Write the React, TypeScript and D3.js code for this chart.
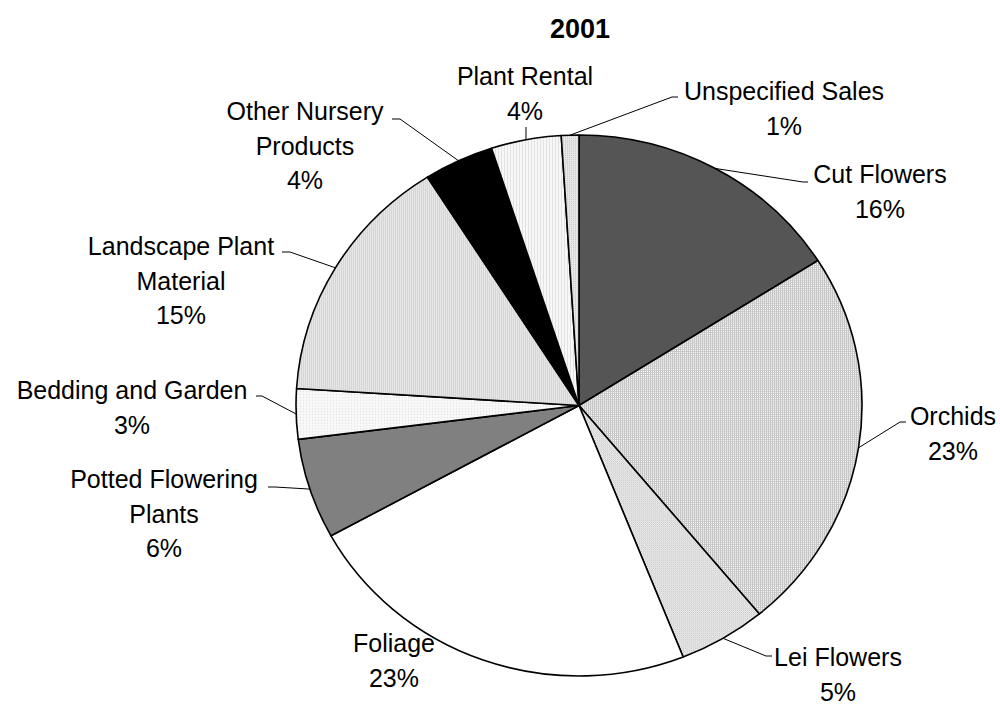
import * as d3 from 'd3';
import React from 'react';

// 2001 sales shares (percent)
const categories = [
  'Cut Flowers', 'Orchids', 'Lei Flowers', 'Foliage', 'Potted Flowering Plants',
  'Bedding and Garden', 'Landscape Plant Material', 'Other Nursery Products',
  'Plant Rental', 'Unspecified Sales',
];
const shares = [16, 23, 5, 23, 6, 3, 15, 4, 4, 1];
const labelLines = [
  ['Cut Flowers'], ['Orchids'], ['Lei Flowers'], ['Foliage'], ['Potted Flowering', 'Plants'],
  ['Bedding and Garden'], ['Landscape Plant', 'Material'], ['Other Nursery', 'Products'],
  ['Plant Rental'], ['Unspecified Sales'],
];
const title = '2001';

// layout (label anchor + leader line bends), not data
const layout = [
  { x: 880, y: 174, path: [[803, 182], [808, 182]] },
  { x: 953, y: 416, path: [[900, 422], [906, 422]] },
  { x: 838, y: 657, path: [[766, 656], [772, 656]] },
  { x: 394, y: 643, path: null },
  { x: 164, y: 479, path: [[275, 487], [268, 487]] },
  { x: 132, y: 390, path: [[262, 396], [256, 396]] },
  { x: 181, y: 246, path: [[290, 252], [282, 252]] },
  { x: 305, y: 111, path: [[400, 119], [392, 119]] },
  { x: 525, y: 76, path: [[526, 127]] },
  { x: 784, y: 91, path: [[672, 97], [678, 97]] },
];
const fills = [
  '#555555', 'url(#pOrchid)', 'url(#pLei)', '#ffffff', '#808080',
  'url(#pBed)', 'url(#pLand)', '#000000', 'url(#pRent)', 'url(#pUns)',
];

const W = 1000, H = 704;
const cx = 579, cy = 405.5, R = 283, ky = 270.5 / 283;
const lineH = 34.5;
const font = "'Liberation Sans', Arial, sans-serif";

export default function App() {
  const pie = d3.pie<number>().value(d => d).sort(null);
  const arcs = pie(shares);
  const arc = d3.arc<d3.PieArcDatum<number>>().innerRadius(0).outerRadius(R);

  const edgePoint = (a: d3.PieArcDatum<number>) => {
    const m = (a.startAngle + a.endAngle) / 2;
    return [cx + R * Math.sin(m), cy - R * Math.cos(m) * ky];
  };
  const line = d3.line();

  return (
    <svg width={W} height={H} style={{ position: 'absolute', left: 0, top: 0, background: '#fff' }}>
      <defs>
        <pattern id="pOrchid" width="2" height="2" patternUnits="userSpaceOnUse">
          <rect width="2" height="2" fill="#c6c6c6" />
          <rect width="1" height="1" fill="#ffffff" />
        </pattern>
        <pattern id="pLei" width="2" height="2" patternUnits="userSpaceOnUse">
          <rect width="2" height="2" fill="#ececec" />
          <rect width="1" height="1" fill="#c8c8c8" />
          <rect x="1" y="1" width="1" height="1" fill="#d8d8d8" />
        </pattern>
        <pattern id="pBed" width="3" height="3" patternUnits="userSpaceOnUse">
          <rect width="3" height="3" fill="#f8f8f8" />
          <rect width="1" height="1" fill="#dcdcdc" />
        </pattern>
        <pattern id="pLand" width="2" height="2" patternUnits="userSpaceOnUse">
          <rect width="2" height="2" fill="#e6e6e6" />
          <rect width="1" height="2" fill="#d6d6d6" />
        </pattern>
        <pattern id="pRent" width="3" height="3" patternUnits="userSpaceOnUse">
          <rect width="3" height="3" fill="#f7f7f7" />
          <rect width="1" height="3" fill="#e2e2e2" />
        </pattern>
        <pattern id="pUns" width="2" height="2" patternUnits="userSpaceOnUse">
          <rect width="2" height="2" fill="#e8e8e8" />
          <rect width="1" height="1" fill="#c4c4c4" />
        </pattern>
      </defs>

      <text x={580} y={29} textAnchor="middle" dominantBaseline="central"
        fontFamily={font} fontWeight="bold" fontSize={27}>{title}</text>

      <g transform={`translate(${cx},${cy}) scale(1,${ky})`}>
        {arcs.map((a, i) => (
          <path key={categories[i]} d={arc(a) || ''} fill={fills[i]}
            stroke="#000" strokeWidth={1.6} strokeLinejoin="round"
            vectorEffect="non-scaling-stroke" />
        ))}
      </g>

      {arcs.map((a, i) => {
        const l = layout[i];
        if (!l.path) return null;
        const pts = [edgePoint(a), ...l.path] as [number, number][];
        return <path key={'l' + i} d={line(pts) || ''} fill="none" stroke="#000" strokeWidth={1} />;
      })}

      {arcs.map((a, i) => {
        const l = layout[i];
        const lines = [...labelLines[i], `${shares[i]}%`];
        return (
          <text key={'t' + i} textAnchor="middle" fontFamily={font} fontSize={25} fill="#000">
            {lines.map((s, j) => (
              <tspan key={j} x={l.x} y={l.y + j * lineH} dominantBaseline="central">{s}</tspan>
            ))}
          </text>
        );
      })}
    </svg>
  );
}
